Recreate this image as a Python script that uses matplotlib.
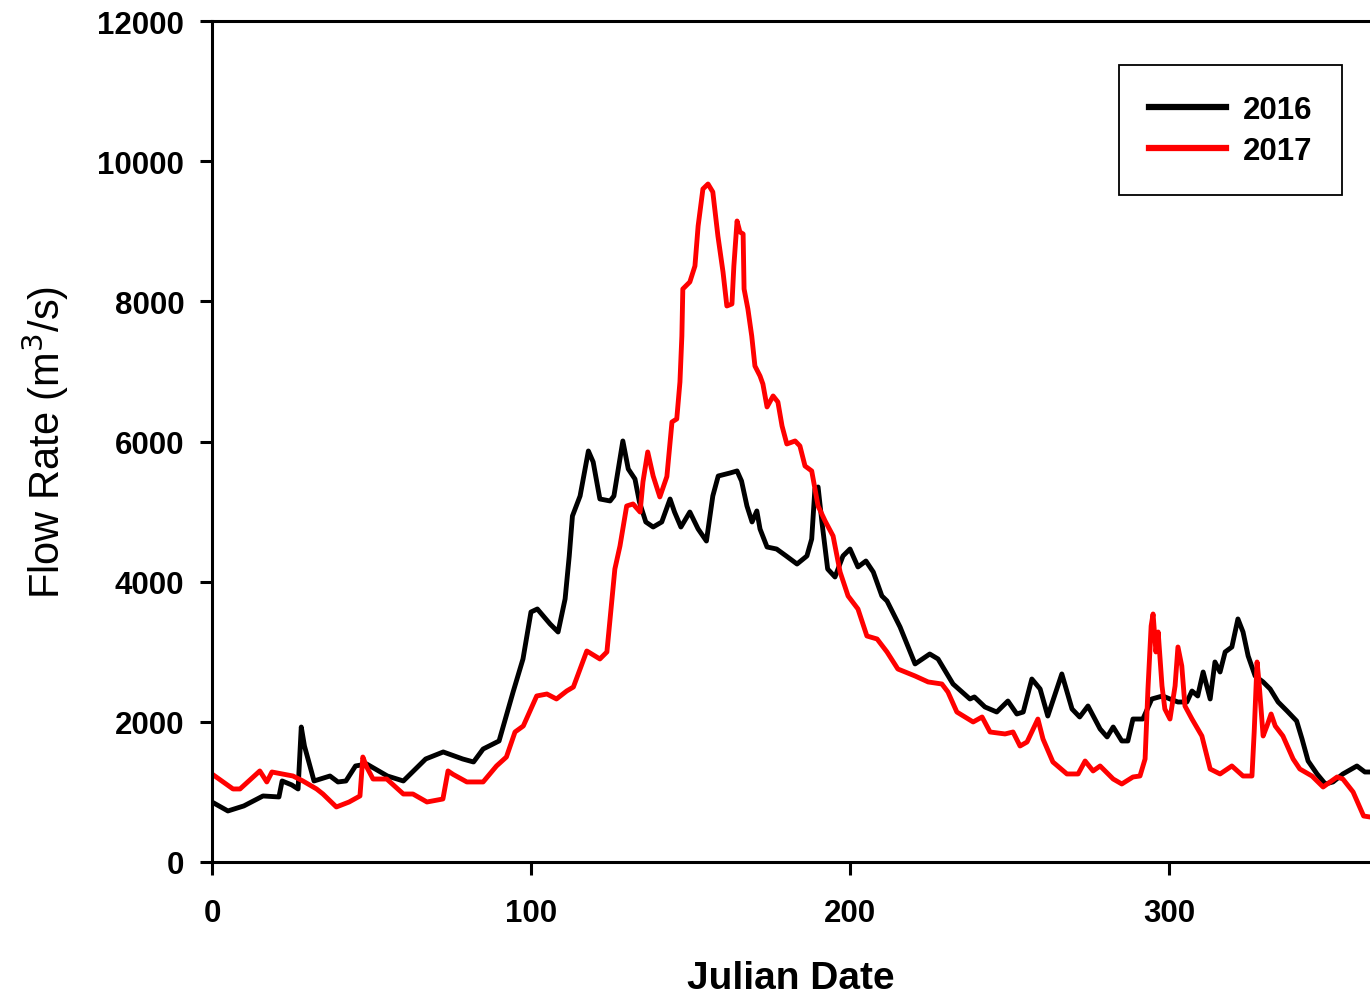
import matplotlib
matplotlib.use("Agg")
import matplotlib.pyplot as plt

plt.rcParams['font.family'] = ['Liberation Sans', 'DejaVu Sans']

days_2016 = [0, 5, 10, 16, 21, 22, 25, 27, 28, 29, 32, 37, 39.5, 42, 45, 48.5, 55, 60, 67, 72.5,
             78.6, 82, 85, 90, 94.4, 97.5, 100, 102, 106, 108.5, 110.7, 112, 113, 115.4, 118, 119.5,
             121.6, 124.8, 126, 128.8, 130.5, 132.6, 134, 136, 138.3, 141, 143.6, 145, 147, 149.8,
             152.4, 155, 157, 158.7, 162.4, 164.6, 166, 167.7, 169.3, 170.8, 171.8, 174, 177, 180,
             183.4, 186.5, 188, 189, 190, 191.2, 193, 195.3, 197.8, 200, 202.5, 205, 207.3, 210,
             211.6, 215.7, 220.4, 225, 227.6, 232.3, 237.6, 239, 242.3, 246, 249.5, 252.3, 254.3,
             257, 259.6, 262, 266.4, 269.6, 272, 274.6, 278.4, 280.6, 282.5, 285.2, 287.1, 288.7,
             291.8, 294.6, 298, 300.3, 302.8, 305.6, 307.2, 309, 310.7, 312.9, 314.4, 316, 317.6,
             319.7, 321.6, 323.2, 324.8, 327, 329.5, 331.7, 334.2, 337, 340, 341.7, 343.6, 346.4,
             349, 351.4, 354.5, 358.9, 361.4, 363]
flow_2016 = [856, 728, 800, 942, 928, 1156, 1100, 1042, 1926, 1655, 1156, 1227, 1142, 1156, 1370,
             1398, 1227, 1156, 1470, 1570, 1470, 1427, 1612, 1727, 2426, 2897, 3567, 3610, 3396,
             3282, 3753, 4367, 4937, 5223, 5865, 5708, 5180, 5152, 5223, 6008, 5608, 5465, 5137,
             4852, 4780, 4852, 5180, 4994, 4780, 4994, 4752, 4580, 5223, 5508, 5551, 5580, 5437,
             5080, 4852, 5009, 4752, 4495, 4466, 4367, 4252, 4367, 4609, 5323, 5351, 4852, 4181,
             4067, 4367, 4466, 4210, 4295, 4138, 3796, 3725, 3353, 2826, 2968, 2897, 2540, 2326,
             2355, 2212, 2140, 2297, 2112, 2140, 2611, 2469, 2083, 2683, 2183, 2069, 2226, 1898,
             1784, 1926, 1727, 1727, 2040, 2040, 2326, 2369, 2326, 2283, 2283, 2440, 2369, 2711,
             2326, 2854, 2711, 2997, 3068, 3468, 3282, 2940, 2654, 2569, 2469, 2283, 2155, 2012,
             1755, 1441, 1256, 1113, 1142, 1256, 1370, 1284, 1284]

days_2017 = [0, 6.6, 8.8, 15, 17.2, 18.8, 25.4, 28.5, 32.8, 34.8, 39, 43, 46.4, 47.3, 48.5, 50.5,
             54.8, 60, 63, 67.4, 72.4, 74, 75.6, 79.9, 85, 89.2, 92.3, 95, 97.6, 101.8, 105, 108,
             111.2, 113.3, 117.5, 121.6, 123.8, 125.4, 126.3, 127.9, 130, 132, 134.2, 135.1, 136.6,
             138.3, 140.4, 142.6, 144.2, 145.7, 146.7, 147.3, 147.6, 149.8, 151.4, 152.4, 153.9,
             155.5, 157, 158.6, 160.2, 161.4, 163, 163.6, 164.6, 165.5, 166.5, 166.8, 168, 169.2,
             170.2, 171.8, 172.7, 174, 175.9, 177.4, 178.7, 180.2, 182.8, 184.3, 185.9, 188, 190,
             192.2, 194.7, 196.9, 199.4, 202.5, 205.3, 208.5, 211.6, 215, 220.4, 224.5, 228.8,
             230.7, 233.5, 238.6, 241.4, 243.9, 248.6, 251.1, 253.3, 255.5, 258.9, 260.5, 263.6,
             268, 271.5, 273.7, 276.2, 278.4, 282.5, 285.2, 288.7, 290.9, 292.5, 293.4, 294.4, 295,
             295.9, 296.6, 297.8, 298.7, 300.3, 301.9, 302.8, 304, 305, 307.2, 310.3, 312.9, 316,
             319.7, 323.2, 326, 326.7, 327.6, 328.2, 329.5, 330.7, 332, 333.3, 335.7, 338.9, 341,
             344.8, 348.3, 352.7, 354.5, 357.7, 361, 363]
flow_2017 = [1256, 1042, 1042, 1299, 1142, 1284, 1227, 1156, 1042, 970, 785, 856, 942, 1498, 1356,
             1184, 1184, 970, 970, 856, 899, 1299, 1250, 1142, 1142, 1370, 1498, 1855, 1941, 2369,
             2397, 2326, 2440, 2497, 3011, 2897, 2997, 3753, 4181, 4509, 5080, 5109, 4994, 5423,
             5851, 5508, 5209, 5500, 6279, 6322, 6850, 7506, 8177, 8277, 8505, 9076, 9604, 9675,
             9561, 8933, 8419, 7934, 7963, 8505, 9147, 8990, 8962, 8177, 7891, 7506, 7078, 6935,
             6821, 6493, 6650, 6564, 6222, 5965, 6008, 5937, 5651, 5580, 5080, 4866, 4652, 4138,
             3796, 3610, 3225, 3182, 2997, 2754, 2654, 2569, 2540, 2426, 2140, 1998, 2069, 1855,
             1827, 1855, 1655, 1712, 2040, 1755, 1427, 1256, 1256, 1441, 1299, 1370, 1184, 1113,
             1213, 1227, 1470, 2469, 3368, 3539, 2997, 3282, 2512, 2183, 2040, 2512, 3068, 2797,
             2226, 2040, 1798, 1327, 1256, 1370, 1227, 1227, 1855, 2854, 2569, 1798, 1941, 2112,
             1941, 1798, 1470, 1327, 1227, 1070, 1213, 1184, 999, 656, 642]

y_ticks = [0, 2000, 4000, 6000, 8000, 10000, 12000]
x_ticks = [0, 100, 200, 300]

fig = plt.figure(figsize=(13.7, 10.03), dpi=100)
ax = fig.add_axes([0.1547, 0.1396, 0.8453, 0.8384])

ax.plot(days_2016, flow_2016, color='black', lw=3.5, label='2016', solid_joinstyle='round')
ax.plot(days_2017, flow_2017, color='#ff0000', lw=3.5, label='2017', solid_joinstyle='round')

ax.set_xlim(0, 363)
ax.set_ylim(0, 12000)
ax.set_xticks(x_ticks)
ax.set_yticks(y_ticks)
ax.spines['right'].set_visible(False)
for s in ['left', 'bottom', 'top']:
    ax.spines[s].set_linewidth(2.2)
ax.tick_params(direction='out', length=9, width=2.2, labelsize=22.5)
ax.tick_params(axis='y', pad=11)
ax.tick_params(axis='x', pad=17)
for lab in ax.get_xticklabels() + ax.get_yticklabels():
    lab.set_fontweight('bold')

ax.set_xlabel('Julian Date', fontsize=28, fontweight='bold', labelpad=23)
ax.set_ylabel('Flow Rate (m$^3$/s)', fontsize=30, labelpad=19)

leg = ax.legend(loc='upper right', bbox_to_anchor=(0.9758, 0.9477),
                prop={'weight': 'bold', 'size': 22.5}, fancybox=False, edgecolor='black',
                framealpha=1, handlelength=2.45, handletextpad=0.55, borderpad=0.95,
                labelspacing=0.35, borderaxespad=0)
leg.get_frame().set_linewidth(1.3)
for line in leg.get_lines():
    line.set_linewidth(4.5)

fig.savefig('out.png', dpi=100)
